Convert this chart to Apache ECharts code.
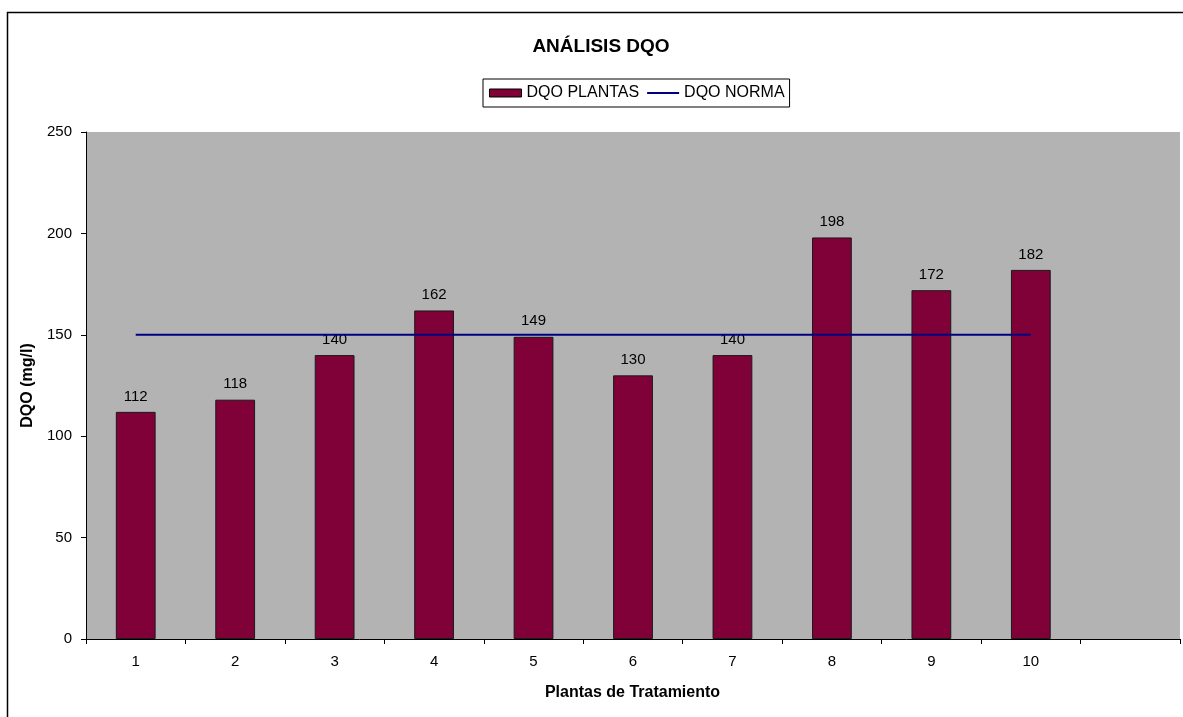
<!DOCTYPE html>
<html>
<head>
<meta charset="utf-8">
<script src="https://cdn.jsdelivr.net/npm/echarts@6/dist/echarts.min.js"></script>
<style>
  html, body { margin: 0; padding: 0; background: #fff; }
  #chart { width: 1183px; height: 717px; }
</style>
</head>
<body>
<div id="chart"></div>
<script>
// Treatment plants (an 11th empty slot keeps the axis running past plant 10)
const categories = ['1', '2', '3', '4', '5', '6', '7', '8', '9', '10', ''];
const dqoPlantas = [112, 118, 140, 162, 149, 130, 140, 198, 172, 182, '-'];
const dqoNorma = [150, 150, 150, 150, 150, 150, 150, 150, 150, 150, '-'];
const yTicks = [0, 50, 100, 150, 200, 250];

const FONT = '"Liberation Sans", Arial, sans-serif';

const chart = echarts.init(document.getElementById('chart'), null, { renderer: 'canvas' });

chart.setOption({
  animation: false,
  backgroundColor: '#ffffff',
  textStyle: { fontFamily: FONT, color: '#000' },
  title: {
    text: 'ANÁLISIS DQO',
    left: 596,
    top: 32,
    textAlign: 'center',
    textStyle: { fontFamily: FONT, fontSize: 19, fontWeight: 'bold', color: '#000' }
  },
  legend: {
    left: 483,
    top: 79,
    padding: [6, 5, 6, 6],
    itemGap: 8,
    itemWidth: 32,
    itemHeight: 8,
    borderColor: '#000',
    borderWidth: 1,
    backgroundColor: '#fff',
    textStyle: { fontFamily: FONT, fontSize: 16, color: '#000' },
    data: [
      { name: 'DQO PLANTAS', icon: 'rect', itemStyle: { borderColor: '#000', borderWidth: 1 } },
      { name: 'DQO NORMA', icon: 'path://M0,0 L32,0 L32,2 L0,2 Z' }
    ]
  },
  graphic: [
    {
      type: 'rect',
      shape: { x: 7.5, y: 12.5, width: 1190, height: 720 },
      style: { fill: 'none', stroke: '#000', lineWidth: 1.5 },
      silent: true,
      z: -1
    }
  ],
  grid: {
    left: 86,
    top: 132,
    width: 1094,
    height: 507,
    show: true,
    backgroundColor: '#b3b3b3',
    borderWidth: 0
  },
  xAxis: {
    type: 'category',
    data: categories,
    name: 'Plantas de Tratamiento',
    nameLocation: 'middle',
    nameGap: 46,
    nameTextStyle: { fontFamily: FONT, fontSize: 16, fontWeight: 'bold', color: '#000', padding: [0, 0, 0, -1] },
    boundaryGap: true,
    axisLine: { show: true, lineStyle: { color: '#000', width: 1 } },
    axisTick: { show: true, alignWithLabel: false, length: 5, lineStyle: { color: '#000' } },
    axisLabel: { fontFamily: FONT, fontSize: 15, color: '#000', margin: 15 },
    splitLine: { show: false }
  },
  yAxis: {
    type: 'value',
    min: yTicks[0],
    max: yTicks[yTicks.length - 1],
    interval: yTicks[1] - yTicks[0],
    name: 'DQO (mg/l)',
    nameLocation: 'middle',
    nameGap: 50,
    nameRotate: 90,
    nameTextStyle: { fontFamily: FONT, fontSize: 16, fontWeight: 'bold', color: '#000' },
    axisLine: { show: true, lineStyle: { color: '#000', width: 1 } },
    axisTick: { show: true, inside: false, length: 5, lineStyle: { color: '#000' } },
    axisLabel: { fontFamily: FONT, fontSize: 15, color: '#000', margin: 14 },
    splitLine: { show: false }
  },
  series: [
    {
      name: 'DQO PLANTAS',
      type: 'bar',
      data: dqoPlantas,
      barWidth: '40%',
      itemStyle: { color: '#800038', borderColor: '#1a1a1a', borderWidth: 1 },
      label: {
        show: true,
        position: 'top',
        distance: 8,
        fontFamily: FONT,
        fontSize: 15,
        color: '#000'
      },
      z: 2
    },
    {
      name: 'DQO NORMA',
      type: 'line',
      data: dqoNorma,
      symbol: 'none',
      showSymbol: false,
      lineStyle: { color: '#000080', width: 2 },
      itemStyle: { color: '#000080' },
      z: 3
    }
  ]
});
</script>
</body>
</html>
